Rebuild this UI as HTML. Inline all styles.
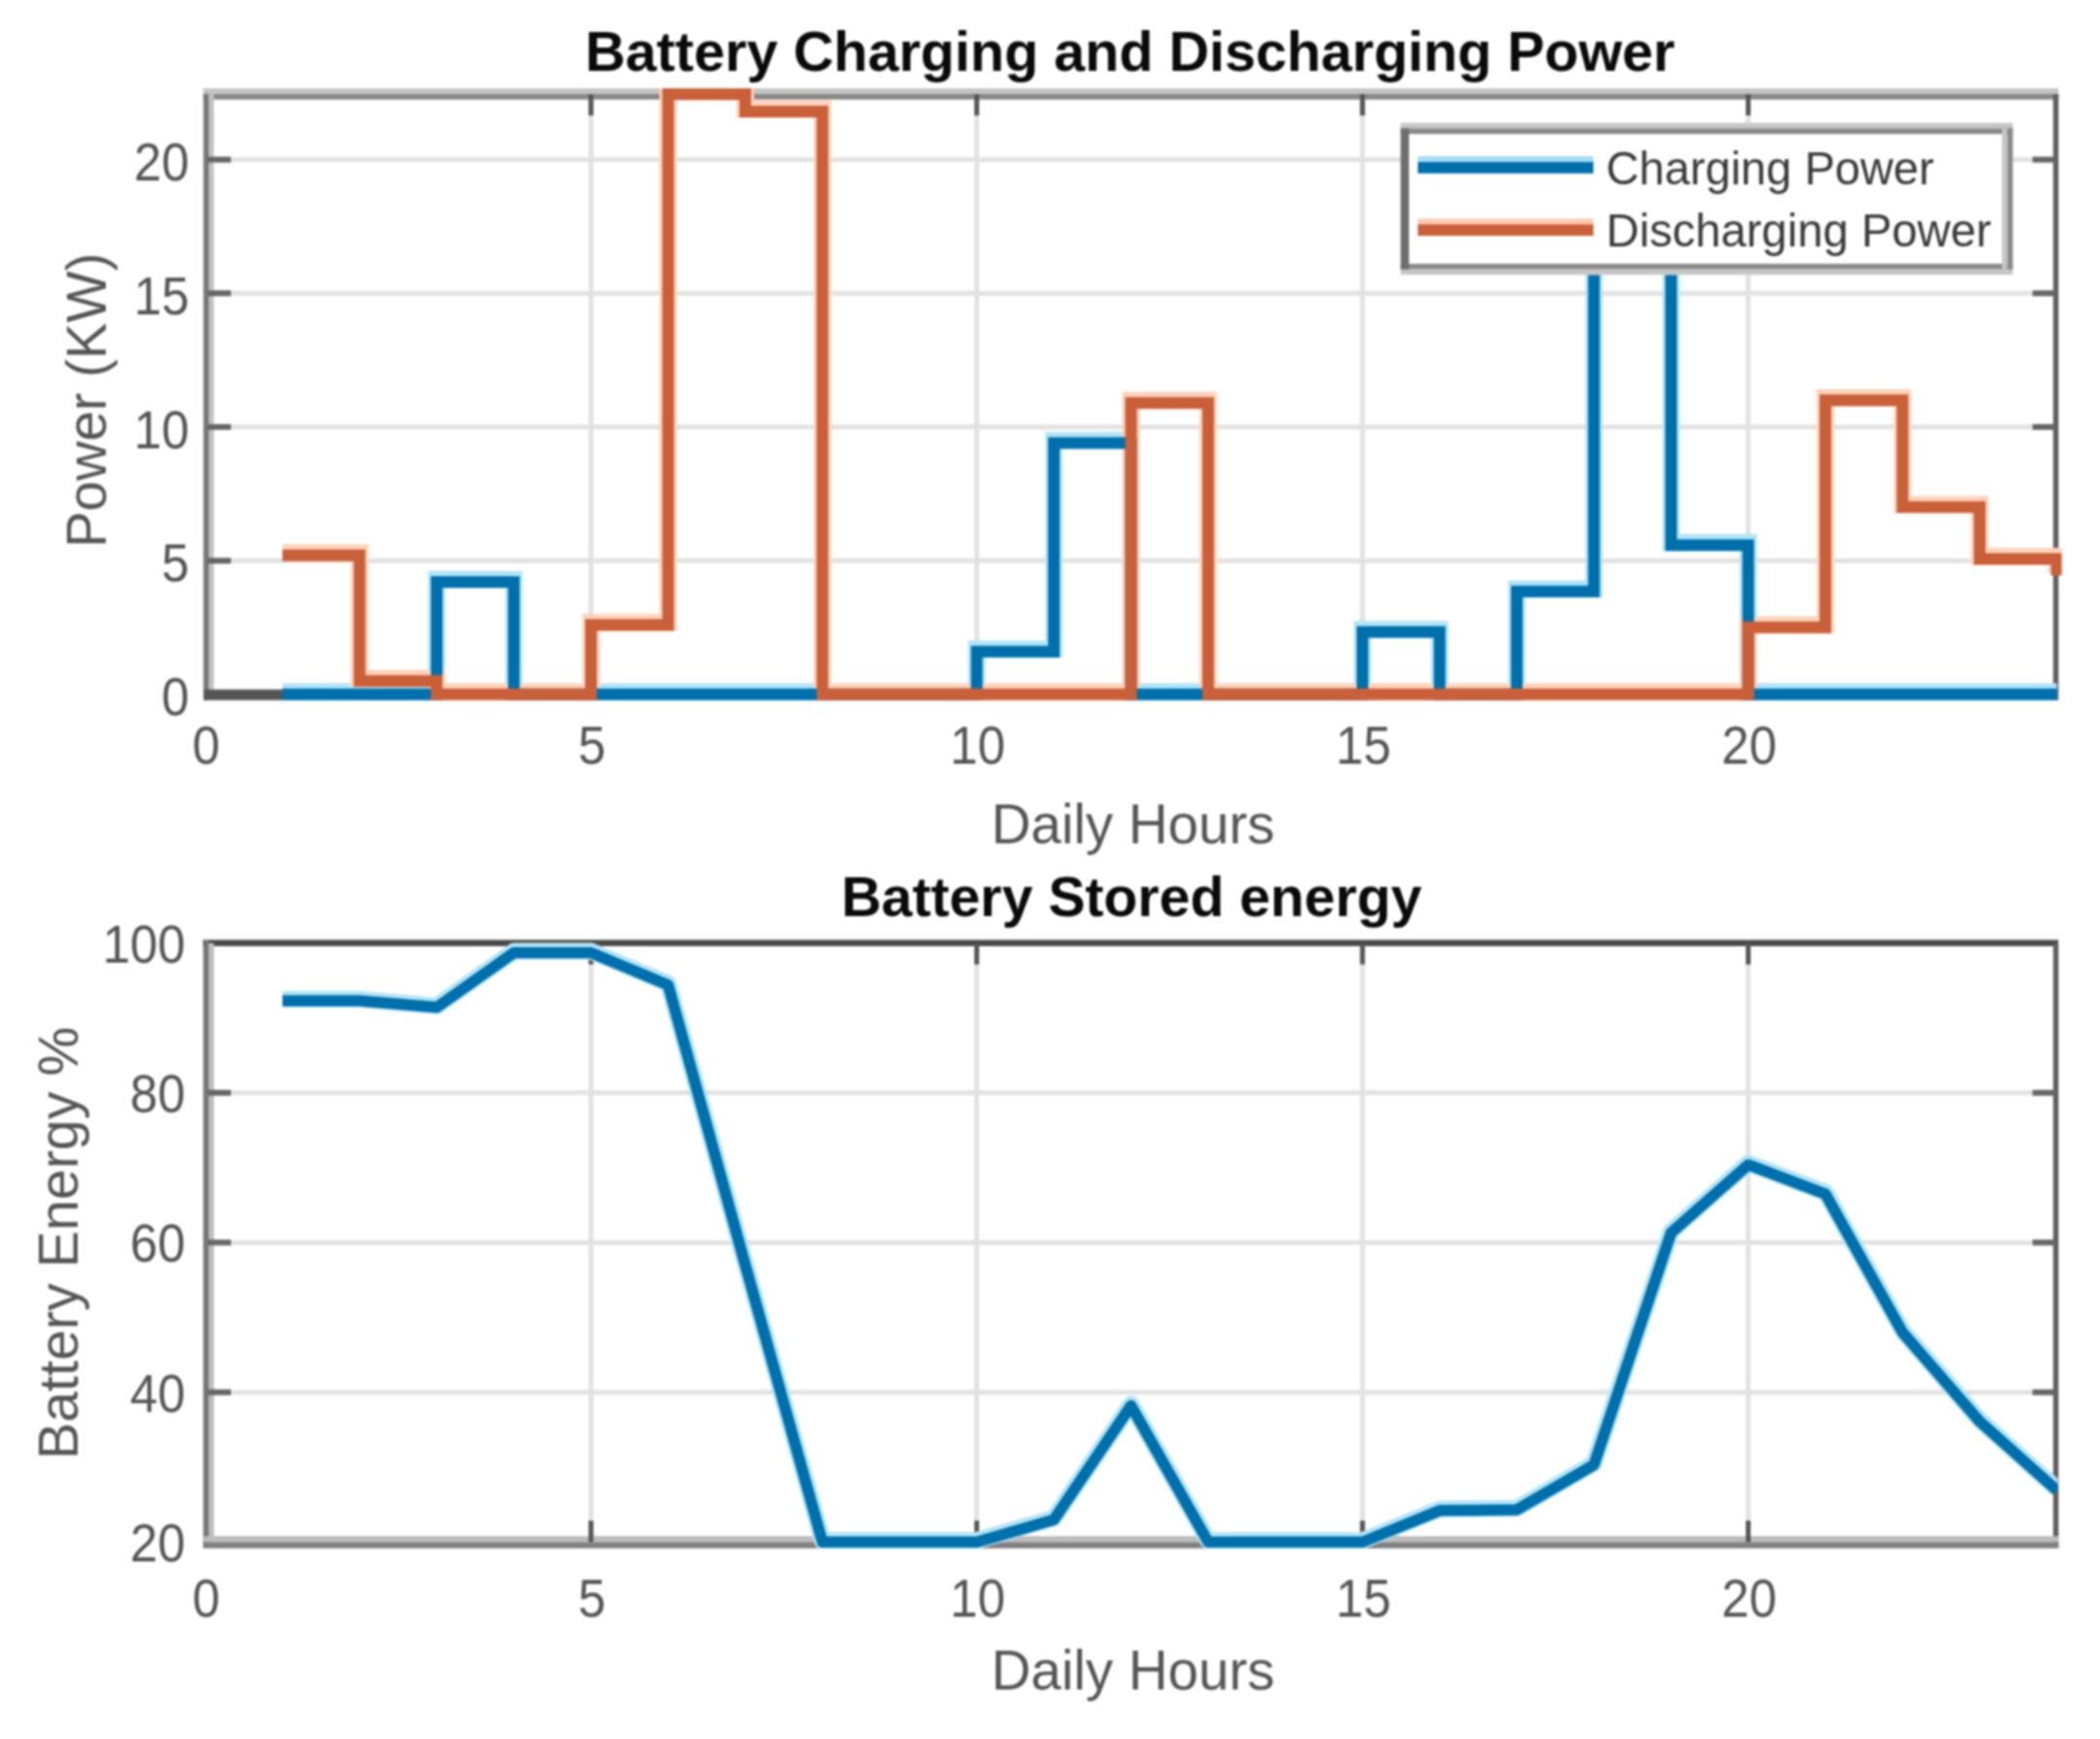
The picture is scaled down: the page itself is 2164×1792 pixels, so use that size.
<!DOCTYPE html>
<html lang="en"><head><meta charset="utf-8"><title>Battery Charging and Discharging Power</title>
<style>html,body{margin:0;padding:0;background:#fff;}body{width:2164px;height:1792px;overflow:hidden;}svg{display:block;filter:blur(1.3px);}text{font-family:"Liberation Sans",Arial,Helvetica,sans-serif;}</style></head><body>
<svg width="2164" height="1792" viewBox="0 0 2164 1792">
<rect width="2164" height="1792" fill="#fff"/>
<defs><clipPath id="ct"><rect x="208.0" y="91.0" width="1916.5" height="631.5"/></clipPath>
<clipPath id="cb"><rect x="208.0" y="965.8" width="1912.5" height="630.2"/></clipPath></defs>
<g id="top">
<line x1="609.0" y1="97.0" x2="609.0" y2="715.5" stroke="#e2e2e2" stroke-width="5"/>
<line x1="1006.5" y1="97.0" x2="1006.5" y2="715.5" stroke="#e2e2e2" stroke-width="5"/>
<line x1="1404.0" y1="97.0" x2="1404.0" y2="715.5" stroke="#e2e2e2" stroke-width="5"/>
<line x1="1801.5" y1="97.0" x2="1801.5" y2="715.5" stroke="#e2e2e2" stroke-width="5"/>
<line x1="214.0" y1="577.8" x2="2118.5" y2="577.8" stroke="#e2e2e2" stroke-width="5"/>
<line x1="214.0" y1="440.0" x2="2118.5" y2="440.0" stroke="#e2e2e2" stroke-width="5"/>
<line x1="214.0" y1="302.2" x2="2118.5" y2="302.2" stroke="#e2e2e2" stroke-width="5"/>
<line x1="214.0" y1="164.5" x2="2118.5" y2="164.5" stroke="#e2e2e2" stroke-width="5"/>
<rect x="209.5" y="91" width="1911.7" height="5.8" fill="#c4c4c4"/>
<rect x="209.5" y="96.8" width="1911.7" height="5.8" fill="#888"/>
<rect x="209.6" y="96.8" width="5.4" height="624.7" fill="#777"/>
<rect x="215" y="96.8" width="5.3" height="618.7" fill="#c0c0c0"/>
<line x1="2118.5" y1="97.0" x2="2118.5" y2="721.5" stroke="#5e5e5e" stroke-width="5.5"/>
<line x1="210.0" y1="716.0" x2="2121.0" y2="716.0" stroke="#555" stroke-width="11"/>
<line x1="609.0" y1="97.0" x2="609.0" y2="119.0" stroke="#555" stroke-width="5"/>
<line x1="1006.5" y1="97.0" x2="1006.5" y2="119.0" stroke="#555" stroke-width="5"/>
<line x1="1404.0" y1="97.0" x2="1404.0" y2="119.0" stroke="#555" stroke-width="5"/>
<line x1="1801.5" y1="97.0" x2="1801.5" y2="119.0" stroke="#555" stroke-width="5"/>
<line x1="214.0" y1="577.8" x2="238.0" y2="577.8" stroke="#666" stroke-width="6"/>
<line x1="2094.5" y1="577.8" x2="2118.5" y2="577.8" stroke="#666" stroke-width="6"/>
<line x1="214.0" y1="440.0" x2="238.0" y2="440.0" stroke="#666" stroke-width="6"/>
<line x1="2094.5" y1="440.0" x2="2118.5" y2="440.0" stroke="#666" stroke-width="6"/>
<line x1="214.0" y1="302.2" x2="238.0" y2="302.2" stroke="#666" stroke-width="6"/>
<line x1="2094.5" y1="302.2" x2="2118.5" y2="302.2" stroke="#666" stroke-width="6"/>
<line x1="214.0" y1="164.5" x2="238.0" y2="164.5" stroke="#666" stroke-width="6"/>
<line x1="2094.5" y1="164.5" x2="2118.5" y2="164.5" stroke="#666" stroke-width="6"/>
<g clip-path="url(#ct)" fill="none" stroke-linejoin="miter" stroke-linecap="butt">
<polyline points="291.0,715.5 370.5,715.5 370.5,715.5 450.0,715.5 450.0,599.8 529.5,599.8 529.5,715.5 609.0,715.5 609.0,715.5 688.5,715.5 688.5,715.5 768.0,715.5 768.0,715.5 847.5,715.5 847.5,715.5 927.0,715.5 927.0,715.5 1006.5,715.5 1006.5,671.4 1086.0,671.4 1086.0,456.5 1165.5,456.5 1165.5,715.5 1245.0,715.5 1245.0,715.5 1324.5,715.5 1324.5,715.5 1404.0,715.5 1404.0,651.3 1483.5,651.3 1483.5,715.5 1563.0,715.5 1563.0,609.4 1642.5,609.4 1642.5,192.0 1722.0,192.0 1722.0,561.8 1801.5,561.8 1801.5,715.5 1881.0,715.5 1881.0,715.5 1960.5,715.5 1960.5,715.5 2040.0,715.5 2040.0,715.5 2119.5,715.5 2119.5,715.5" stroke="#b4e4f7" stroke-width="18" transform="translate(0,-2.5)"/>
<polyline points="291.0,572.2 370.5,572.2 370.5,701.7 450.0,701.7 450.0,715.5 529.5,715.5 529.5,715.5 609.0,715.5 609.0,643.9 688.5,643.9 688.5,97.0 768.0,97.0 768.0,114.9 847.5,114.9 847.5,715.5 927.0,715.5 927.0,715.5 1006.5,715.5 1006.5,715.5 1086.0,715.5 1086.0,715.5 1165.5,715.5 1165.5,415.2 1245.0,415.2 1245.0,715.5 1324.5,715.5 1324.5,715.5 1404.0,715.5 1404.0,715.5 1483.5,715.5 1483.5,715.5 1563.0,715.5 1563.0,715.5 1642.5,715.5 1642.5,715.5 1722.0,715.5 1722.0,715.5 1801.5,715.5 1801.5,646.6 1881.0,646.6 1881.0,412.4 1960.5,412.4 1960.5,522.6 2040.0,522.6 2040.0,576.1 2119.5,576.1 2119.5,592.9" stroke="#ffd2ba" stroke-width="18" transform="translate(0,-2.5)"/>
<polyline points="291.0,715.5 370.5,715.5 370.5,715.5 450.0,715.5 450.0,599.8 529.5,599.8 529.5,715.5 609.0,715.5 609.0,715.5 688.5,715.5 688.5,715.5 768.0,715.5 768.0,715.5 847.5,715.5 847.5,715.5 927.0,715.5 927.0,715.5 1006.5,715.5 1006.5,671.4 1086.0,671.4 1086.0,456.5 1165.5,456.5 1165.5,715.5 1245.0,715.5 1245.0,715.5 1324.5,715.5 1324.5,715.5 1404.0,715.5 1404.0,651.3 1483.5,651.3 1483.5,715.5 1563.0,715.5 1563.0,609.4 1642.5,609.4 1642.5,192.0 1722.0,192.0 1722.0,561.8 1801.5,561.8 1801.5,715.5 1881.0,715.5 1881.0,715.5 1960.5,715.5 1960.5,715.5 2040.0,715.5 2040.0,715.5 2119.5,715.5 2119.5,715.5" stroke="#0070ac" stroke-width="12"/>
<polyline points="291.0,572.2 370.5,572.2 370.5,701.7 450.0,701.7 450.0,715.5 529.5,715.5 529.5,715.5 609.0,715.5 609.0,643.9 688.5,643.9 688.5,97.0 768.0,97.0 768.0,114.9 847.5,114.9 847.5,715.5 927.0,715.5 927.0,715.5 1006.5,715.5 1006.5,715.5 1086.0,715.5 1086.0,715.5 1165.5,715.5 1165.5,415.2 1245.0,415.2 1245.0,715.5 1324.5,715.5 1324.5,715.5 1404.0,715.5 1404.0,715.5 1483.5,715.5 1483.5,715.5 1563.0,715.5 1563.0,715.5 1642.5,715.5 1642.5,715.5 1722.0,715.5 1722.0,715.5 1801.5,715.5 1801.5,646.6 1881.0,646.6 1881.0,412.4 1960.5,412.4 1960.5,522.6 2040.0,522.6 2040.0,576.1 2119.5,576.1 2119.5,592.9" stroke="#c9603a" stroke-width="12"/>
</g>
<rect x="1443.3" y="126.7" width="630.9" height="156.6" fill="#fff"/>
<rect x="1443.3" y="126.7" width="630.9" height="5.6" fill="#c6c6c6"/>
<rect x="1443.3" y="132.3" width="630.9" height="5.8" fill="#8a8a8a"/>
<rect x="1443.3" y="271.8" width="630.9" height="5.8" fill="#8a8a8a"/>
<rect x="1443.3" y="277.6" width="630.9" height="5.6" fill="#c6c6c6"/>
<rect x="1443.3" y="132.3" width="8.6" height="145.3" fill="#6e6e6e"/>
<rect x="2063" y="132.3" width="5.6" height="145.3" fill="#c6c6c6"/>
<rect x="2068.6" y="132.3" width="5.6" height="145.3" fill="#8a8a8a"/>
<rect x="1461" y="160.9" width="181" height="6.1" fill="#a6def5"/>
<rect x="1461" y="166.9" width="181" height="11.8" fill="#0070ac"/>
<rect x="1461" y="225.2" width="181" height="6.1" fill="#ffcbb0"/>
<rect x="1461" y="231.2" width="181" height="11.8" fill="#c9603a"/>
<text x="1655" y="190" font-size="48" fill="#3a3a3a" textLength="338" lengthAdjust="spacingAndGlyphs">Charging Power</text>
<text x="1655" y="254" font-size="48" fill="#3a3a3a" textLength="397" lengthAdjust="spacingAndGlyphs">Discharging Power</text>
<text x="195" y="737.0" font-size="55" fill="#555" text-anchor="end" textLength="28.4" lengthAdjust="spacingAndGlyphs">0</text>
<text x="195" y="599.2" font-size="55" fill="#555" text-anchor="end" textLength="28.4" lengthAdjust="spacingAndGlyphs">5</text>
<text x="195" y="461.5" font-size="55" fill="#555" text-anchor="end" textLength="56.9" lengthAdjust="spacingAndGlyphs">10</text>
<text x="195" y="323.8" font-size="55" fill="#555" text-anchor="end" textLength="56.9" lengthAdjust="spacingAndGlyphs">15</text>
<text x="195" y="186.0" font-size="55" fill="#555" text-anchor="end" textLength="56.9" lengthAdjust="spacingAndGlyphs">20</text>
<text x="212.5" y="787" font-size="55" fill="#555" text-anchor="middle" textLength="28.4" lengthAdjust="spacingAndGlyphs">0</text>
<text x="610.0" y="787" font-size="55" fill="#555" text-anchor="middle" textLength="28.4" lengthAdjust="spacingAndGlyphs">5</text>
<text x="1007.5" y="787" font-size="55" fill="#555" text-anchor="middle" textLength="56.9" lengthAdjust="spacingAndGlyphs">10</text>
<text x="1405.0" y="787" font-size="55" fill="#555" text-anchor="middle" textLength="56.9" lengthAdjust="spacingAndGlyphs">15</text>
<text x="1802.5" y="787" font-size="55" fill="#555" text-anchor="middle" textLength="56.9" lengthAdjust="spacingAndGlyphs">20</text>
<text x="1167.5" y="868.5" font-size="58" fill="#555" text-anchor="middle" textLength="292" lengthAdjust="spacingAndGlyphs">Daily Hours</text>
<text transform="translate(108.5,412.5) rotate(-90)" font-size="58" fill="#555" text-anchor="middle" textLength="304" lengthAdjust="spacingAndGlyphs">Power (KW)</text>
<text x="1164.5" y="73" font-size="58" font-weight="bold" fill="#0a0a0a" text-anchor="middle" textLength="1123" lengthAdjust="spacingAndGlyphs">Battery Charging and Discharging Power</text>
</g>
<g id="bottom">
<line x1="609.0" y1="971.8" x2="609.0" y2="1589.0" stroke="#e2e2e2" stroke-width="5"/>
<line x1="1006.5" y1="971.8" x2="1006.5" y2="1589.0" stroke="#e2e2e2" stroke-width="5"/>
<line x1="1404.0" y1="971.8" x2="1404.0" y2="1589.0" stroke="#e2e2e2" stroke-width="5"/>
<line x1="1801.5" y1="971.8" x2="1801.5" y2="1589.0" stroke="#e2e2e2" stroke-width="5"/>
<line x1="214.0" y1="1434.7" x2="2118.5" y2="1434.7" stroke="#e2e2e2" stroke-width="5"/>
<line x1="214.0" y1="1280.4" x2="2118.5" y2="1280.4" stroke="#e2e2e2" stroke-width="5"/>
<line x1="214.0" y1="1126.1" x2="2118.5" y2="1126.1" stroke="#e2e2e2" stroke-width="5"/>
<line x1="209.0" y1="971.8" x2="2121.0" y2="971.8" stroke="#4a4a4a" stroke-width="6.5"/>
<rect x="209.4" y="968.8" width="5.6" height="626.2" fill="#777"/>
<rect x="215" y="971.8" width="5.5" height="617.2" fill="#bdbdbd"/>
<line x1="2118.5" y1="971.8" x2="2118.5" y2="1595.0" stroke="#5e5e5e" stroke-width="5.5"/>
<rect x="209.5" y="1583" width="1911.7" height="6.2" fill="#bcbcbc"/>
<rect x="209.5" y="1589.2" width="1911.7" height="6.3" fill="#808080"/>
<line x1="609.0" y1="971.8" x2="609.0" y2="993.8" stroke="#555" stroke-width="5"/>
<line x1="609.0" y1="1567.0" x2="609.0" y2="1589.0" stroke="#555" stroke-width="5"/>
<line x1="1006.5" y1="971.8" x2="1006.5" y2="993.8" stroke="#555" stroke-width="5"/>
<line x1="1006.5" y1="1567.0" x2="1006.5" y2="1589.0" stroke="#555" stroke-width="5"/>
<line x1="1404.0" y1="971.8" x2="1404.0" y2="993.8" stroke="#555" stroke-width="5"/>
<line x1="1404.0" y1="1567.0" x2="1404.0" y2="1589.0" stroke="#555" stroke-width="5"/>
<line x1="1801.5" y1="971.8" x2="1801.5" y2="993.8" stroke="#555" stroke-width="5"/>
<line x1="1801.5" y1="1567.0" x2="1801.5" y2="1589.0" stroke="#555" stroke-width="5"/>
<line x1="214.0" y1="1434.7" x2="238.0" y2="1434.7" stroke="#666" stroke-width="6"/>
<line x1="2094.5" y1="1434.7" x2="2118.5" y2="1434.7" stroke="#666" stroke-width="6"/>
<line x1="214.0" y1="1280.4" x2="238.0" y2="1280.4" stroke="#666" stroke-width="6"/>
<line x1="2094.5" y1="1280.4" x2="2118.5" y2="1280.4" stroke="#666" stroke-width="6"/>
<line x1="214.0" y1="1126.1" x2="238.0" y2="1126.1" stroke="#666" stroke-width="6"/>
<line x1="2094.5" y1="1126.1" x2="2118.5" y2="1126.1" stroke="#666" stroke-width="6"/>
<g clip-path="url(#cb)" fill="none" stroke-linejoin="round" stroke-linecap="butt">
<polyline points="291.0,1031.2 370.5,1031.2 450.0,1038.1 529.5,981.8 609.0,981.8 688.5,1015.0 768.0,1303.5 847.5,1589.0 927.0,1589.0 1006.5,1589.0 1086.0,1565.9 1165.5,1448.6 1245.0,1589.0 1324.5,1589.0 1404.0,1589.0 1483.5,1556.6 1563.0,1555.8 1642.5,1509.5 1722.0,1270.4 1801.5,1200.2 1881.0,1230.3 1960.5,1373.0 2040.0,1464.8 2119.5,1535.8" stroke="#b4e4f7" stroke-width="17.5" transform="translate(0,-1.5)"/>
<polyline points="291.0,1031.2 370.5,1031.2 450.0,1038.1 529.5,981.8 609.0,981.8 688.5,1015.0 768.0,1303.5 847.5,1589.0 927.0,1589.0 1006.5,1589.0 1086.0,1565.9 1165.5,1448.6 1245.0,1589.0 1324.5,1589.0 1404.0,1589.0 1483.5,1556.6 1563.0,1555.8 1642.5,1509.5 1722.0,1270.4 1801.5,1200.2 1881.0,1230.3 1960.5,1373.0 2040.0,1464.8 2119.5,1535.8" stroke="#0070ac" stroke-width="11.5"/>
</g>
<text x="191" y="1609.0" font-size="55" fill="#555" text-anchor="end" textLength="56.9" lengthAdjust="spacingAndGlyphs">20</text>
<text x="191" y="1454.7" font-size="55" fill="#555" text-anchor="end" textLength="56.9" lengthAdjust="spacingAndGlyphs">40</text>
<text x="191" y="1300.4" font-size="55" fill="#555" text-anchor="end" textLength="56.9" lengthAdjust="spacingAndGlyphs">60</text>
<text x="191" y="1146.1" font-size="55" fill="#555" text-anchor="end" textLength="56.9" lengthAdjust="spacingAndGlyphs">80</text>
<text x="191" y="991.8" font-size="55" fill="#555" text-anchor="end" textLength="85.3" lengthAdjust="spacingAndGlyphs">100</text>
<text x="212.5" y="1666" font-size="55" fill="#555" text-anchor="middle" textLength="28.4" lengthAdjust="spacingAndGlyphs">0</text>
<text x="610.0" y="1666" font-size="55" fill="#555" text-anchor="middle" textLength="28.4" lengthAdjust="spacingAndGlyphs">5</text>
<text x="1007.5" y="1666" font-size="55" fill="#555" text-anchor="middle" textLength="56.9" lengthAdjust="spacingAndGlyphs">10</text>
<text x="1405.0" y="1666" font-size="55" fill="#555" text-anchor="middle" textLength="56.9" lengthAdjust="spacingAndGlyphs">15</text>
<text x="1802.5" y="1666" font-size="55" fill="#555" text-anchor="middle" textLength="56.9" lengthAdjust="spacingAndGlyphs">20</text>
<text x="1167.5" y="1740.5" font-size="58" fill="#555" text-anchor="middle" textLength="292" lengthAdjust="spacingAndGlyphs">Daily Hours</text>
<text transform="translate(80,1281) rotate(-90)" font-size="58" fill="#555" text-anchor="middle" textLength="446" lengthAdjust="spacingAndGlyphs">Battery Energy %</text>
<text x="1166" y="943.5" font-size="58" font-weight="bold" fill="#0a0a0a" text-anchor="middle" textLength="598" lengthAdjust="spacingAndGlyphs">Battery Stored energy</text>
</g>
</svg></body></html>
